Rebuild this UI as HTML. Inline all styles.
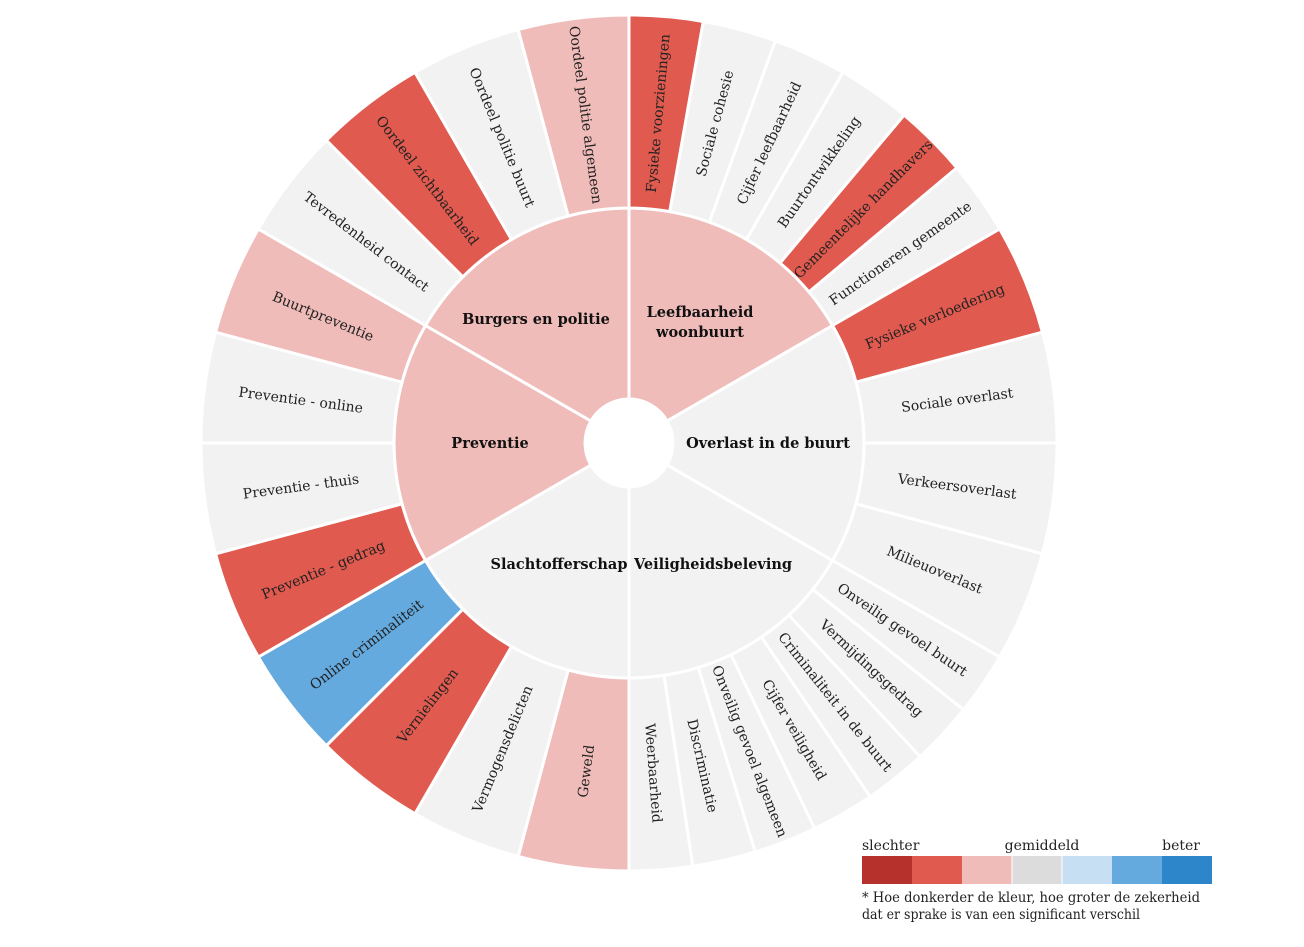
<!DOCTYPE html>
<html><head><meta charset="utf-8"><style>
body{margin:0;background:#fff;}
svg{display:block;font-family:"DejaVu Serif","Liberation Serif",serif;}
.o{font-size:14px;fill:#222;}
.i{font-size:14.5px;font-weight:bold;fill:#111;}
.l{font-size:14px;fill:#222;}
.f{font-size:13.6px;fill:#222;}
</style></head><body>
<svg width="1304" height="947" viewBox="0 0 1304 947">
<defs>
<path id="w10" d="M0,-428 A428,428 0 0 1 74.32,-421.50 L40.81,-231.43 A235,235 0 0 0 0,-235 Z"/>
<path id="w15" d="M0,-428 A428,428 0 0 1 110.78,-413.42 L60.82,-226.99 A235,235 0 0 0 0,-235 Z"/>
<path id="w8" d="M0,-428 A428,428 0 0 1 63.79,-423.22 L35.02,-232.38 A235,235 0 0 0 0,-235 Z"/>
<path id="w60" d="M0,-235 A235,235 0 0 1 203.52,-117.5 L38.11,-22 A44,44 0 0 0 0,-44 Z"/>
</defs>
<g transform="translate(629,443)" stroke="#fff" stroke-width="3">
<use href="#w60" transform="rotate(0)" fill="#f0bcb9"/>
<use href="#w60" transform="rotate(60)" fill="#f2f2f2"/>
<use href="#w60" transform="rotate(120)" fill="#f2f2f2"/>
<use href="#w60" transform="rotate(180)" fill="#f2f2f2"/>
<use href="#w60" transform="rotate(240)" fill="#f0bcb9"/>
<use href="#w60" transform="rotate(300)" fill="#f0bcb9"/>
<use href="#w10" transform="rotate(0)" fill="#e05a4f"/>
<use href="#w10" transform="rotate(10)" fill="#f2f2f2"/>
<use href="#w10" transform="rotate(20)" fill="#f2f2f2"/>
<use href="#w10" transform="rotate(30)" fill="#f2f2f2"/>
<use href="#w10" transform="rotate(40)" fill="#e05a4f"/>
<use href="#w10" transform="rotate(50)" fill="#f2f2f2"/>
<use href="#w15" transform="rotate(60)" fill="#e05a4f"/>
<use href="#w15" transform="rotate(75)" fill="#f2f2f2"/>
<use href="#w15" transform="rotate(90)" fill="#f2f2f2"/>
<use href="#w15" transform="rotate(105)" fill="#f2f2f2"/>
<use href="#w8" transform="rotate(120)" fill="#f2f2f2"/>
<use href="#w8" transform="rotate(128.571)" fill="#f2f2f2"/>
<use href="#w8" transform="rotate(137.143)" fill="#f2f2f2"/>
<use href="#w8" transform="rotate(145.714)" fill="#f2f2f2"/>
<use href="#w8" transform="rotate(154.286)" fill="#f2f2f2"/>
<use href="#w8" transform="rotate(162.857)" fill="#f2f2f2"/>
<use href="#w8" transform="rotate(171.429)" fill="#f2f2f2"/>
<use href="#w15" transform="rotate(180)" fill="#f0bcb9"/>
<use href="#w15" transform="rotate(195)" fill="#f2f2f2"/>
<use href="#w15" transform="rotate(210)" fill="#e05a4f"/>
<use href="#w15" transform="rotate(225)" fill="#64aadf"/>
<use href="#w15" transform="rotate(240)" fill="#e05a4f"/>
<use href="#w15" transform="rotate(255)" fill="#f2f2f2"/>
<use href="#w15" transform="rotate(270)" fill="#f2f2f2"/>
<use href="#w15" transform="rotate(285)" fill="#f0bcb9"/>
<use href="#w15" transform="rotate(300)" fill="#f2f2f2"/>
<use href="#w15" transform="rotate(315)" fill="#e05a4f"/>
<use href="#w15" transform="rotate(330)" fill="#f2f2f2"/>
<use href="#w15" transform="rotate(345)" fill="#f0bcb9"/>
</g>
<g transform="translate(629,443)" class="o" text-anchor="middle">
<text transform="rotate(5) translate(0,-331) rotate(-90)" dy=".35em">Fysieke voorzieningen</text>
<text transform="rotate(15) translate(0,-331) rotate(-90)" dy=".35em">Sociale cohesie</text>
<text transform="rotate(25) translate(0,-331) rotate(-90)" dy=".35em">Cijfer leefbaarheid</text>
<text transform="rotate(35) translate(0,-331) rotate(-90)" dy=".35em">Buurtontwikkeling</text>
<text transform="rotate(45) translate(0,-331) rotate(-90)" dy=".35em">Gemeentelijke handhavers</text>
<text transform="rotate(55) translate(0,-331) rotate(-90)" dy=".35em">Functioneren gemeente</text>
<text transform="rotate(67.5) translate(0,-331) rotate(-90)" dy=".35em">Fysieke verloedering</text>
<text transform="rotate(82.5) translate(0,-331) rotate(-90)" dy=".35em">Sociale overlast</text>
<text transform="rotate(97.5) translate(0,-331) rotate(-90)" dy=".35em">Verkeersoverlast</text>
<text transform="rotate(112.5) translate(0,-331) rotate(-90)" dy=".35em">Milieuoverlast</text>
<text transform="rotate(124.286) translate(0,-331) rotate(-90)" dy=".35em">Onveilig gevoel buurt</text>
<text transform="rotate(132.857) translate(0,-331) rotate(-90)" dy=".35em">Vermijdingsgedrag</text>
<text transform="rotate(141.429) translate(0,-331) rotate(-90)" dy=".35em">Criminaliteit in de buurt</text>
<text transform="rotate(150) translate(0,-331) rotate(-90)" dy=".35em">Cijfer veiligheid</text>
<text transform="rotate(158.571) translate(0,-331) rotate(-90)" dy=".35em">Onveilig gevoel algemeen</text>
<text transform="rotate(167.143) translate(0,-331) rotate(-90)" dy=".35em">Discriminatie</text>
<text transform="rotate(175.714) translate(0,-331) rotate(-90)" dy=".35em">Weerbaarheid</text>
<text transform="rotate(187.5) translate(0,-331) rotate(90)" dy=".35em">Geweld</text>
<text transform="rotate(202.5) translate(0,-331) rotate(90)" dy=".35em">Vermogensdelicten</text>
<text transform="rotate(217.5) translate(0,-331) rotate(90)" dy=".35em">Vernielingen</text>
<text transform="rotate(232.5) translate(0,-331) rotate(90)" dy=".35em">Online criminaliteit</text>
<text transform="rotate(247.5) translate(0,-331) rotate(90)" dy=".35em">Preventie - gedrag</text>
<text transform="rotate(262.5) translate(0,-331) rotate(90)" dy=".35em">Preventie - thuis</text>
<text transform="rotate(277.5) translate(0,-331) rotate(90)" dy=".35em">Preventie - online</text>
<text transform="rotate(292.5) translate(0,-331) rotate(90)" dy=".35em">Buurtpreventie</text>
<text transform="rotate(307.5) translate(0,-331) rotate(90)" dy=".35em">Tevredenheid contact</text>
<text transform="rotate(322.5) translate(0,-331) rotate(90)" dy=".35em">Oordeel zichtbaarheid</text>
<text transform="rotate(337.5) translate(0,-331) rotate(90)" dy=".35em">Oordeel politie buurt</text>
<text transform="rotate(352.5) translate(0,-331) rotate(90)" dy=".35em">Oordeel politie algemeen</text>
</g>
<g class="i" text-anchor="middle">
<text x="536" y="324">Burgers en politie</text>
<text x="700" y="317">Leefbaarheid</text>
<text x="700" y="337">woonbuurt</text>
<text x="768" y="448">Overlast in de buurt</text>
<text x="713" y="569">Veiligheidsbeleving</text>
<text x="559" y="569">Slachtofferschap</text>
<text x="490" y="448">Preventie</text>
</g>
<g>
<rect x="862" y="856" width="50" height="28" fill="#b7312c"/>
<rect x="912" y="856" width="50" height="28" fill="#e05a4f"/>
<rect x="962" y="856" width="50" height="28" fill="#f0bcb9"/>
<rect x="1012" y="856" width="50" height="28" fill="#dcdcdc"/>
<rect x="1062" y="856" width="50" height="28" fill="#c6dff2"/>
<rect x="1112" y="856" width="50" height="28" fill="#64aadf"/>
<rect x="1162" y="856" width="50" height="28" fill="#2d86c9"/>
<line x1="1012" y1="856" x2="1012" y2="884" stroke="#fff" stroke-width="1"/>
<line x1="1062" y1="856" x2="1062" y2="884" stroke="#fff" stroke-width="1"/>
</g>
<g class="l">
<text x="862" y="850">slechter</text>
<text x="1042" y="850" text-anchor="middle">gemiddeld</text>
<text x="1200" y="850" text-anchor="end">beter</text>
</g>
<g class="f">
<text x="862" y="902" textLength="338" lengthAdjust="spacingAndGlyphs">* Hoe donkerder de kleur, hoe groter de zekerheid</text>
<text x="862" y="919" textLength="278" lengthAdjust="spacingAndGlyphs">dat er sprake is van een significant verschil</text>
</g>
</svg>
</body></html>
